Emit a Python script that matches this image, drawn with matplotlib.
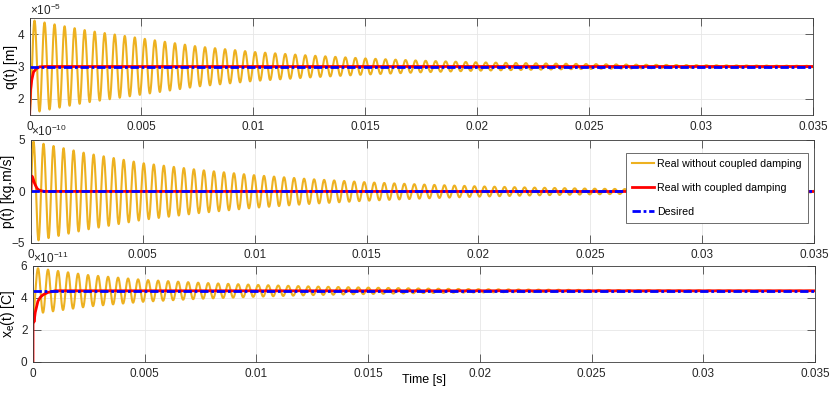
import numpy as np
import matplotlib
matplotlib.use("Agg")
import matplotlib.pyplot as plt

plt.rcParams["font.family"] = ["Liberation Sans", "DejaVu Sans"]
plt.rcParams["mathtext.fontset"] = "custom"
plt.rcParams["mathtext.rm"] = "Liberation Sans"
plt.rcParams["mathtext.it"] = "Liberation Sans:italic"

ORANGE = "#EDB120"
RED = "#FF0000"
BLUE = "#0000FF"
AXC = "#3a3a3a"

# --- data --------------------------------------------------------------
T_END = 0.035
xticks = [0, 0.005, 0.01, 0.015, 0.02, 0.025, 0.03, 0.035]
xtick_labels = ["0", "0.005", "0.01", "0.015", "0.02", "0.025", "0.03", "0.035"]

# oscillation period of the undamped response (s)
osc_period = 0.000448

# envelope (half peak-to-peak) of the orange curves, read every 2.5 ms
t_env = [0, 0.0025, 0.005, 0.0075, 0.01, 0.0125, 0.015, 0.0175,
         0.02, 0.0225, 0.025, 0.0275, 0.03, 0.0325, 0.035]
q_amp = [1.45, 1.12, 0.87, 0.62, 0.45, 0.34, 0.25, 0.18,
         0.13, 0.10, 0.075, 0.055, 0.04, 0.03, 0.022]          # x1e-5 m
p_amp = [4.9, 3.7, 2.75, 2.1, 1.58, 1.2, 0.9, 0.68,
         0.5, 0.38, 0.28, 0.21, 0.16, 0.12, 0.09]               # x1e-10
xe_amp = [1.45, 0.98, 0.68, 0.5, 0.37, 0.27, 0.2, 0.14,
          0.1, 0.075, 0.055, 0.04, 0.03, 0.02, 0.015]           # x1e-11 C

# desired values
q_des = 3.0     # x1e-5
p_des = 0.0     # x1e-10
xe_des = 4.45   # x1e-11

# red curves (with coupled damping)
t_q_red = [0, 1.5e-5, 4.5e-5, 1.0e-4, 1.8e-4, 3.0e-4, 4.5e-4, 7e-4, T_END]
q_red = [1.2, 1.8, 2.27, 2.58, 2.83, 2.93, 2.99, 3.0, 3.0]
t_p_red = [0, 1.5e-5, 3e-5, 6e-5, 1e-4, 1.5e-4, 2e-4, 2.7e-4, 3.5e-4,
           4.5e-4, 6e-4, T_END]
p_red = [0, 1.2, 1.5, 1.45, 1.2, 0.85, 0.6, 0.3, 0.15, 0.06, 0.01, 0]
t_xe_red = [0, 2e-6, 1.5e-5, 4.5e-5, 1e-4, 2.2e-4, 3.3e-4, 4.5e-4,
            6.7e-4, 1e-3, T_END]
xe_red = [0, 2.9, 3.0, 2.5, 3.1, 3.8, 4.05, 4.2, 4.35, 4.45, 4.45]

# --- curves ----------------------------------------------------------
t = np.linspace(0, T_END, 30000)
phase = 2 * np.pi * t / osc_period
q_real = q_des - np.interp(t, t_env, q_amp) * np.cos(phase)
p_real = p_des + np.interp(t, t_env, p_amp) * np.sin(phase)
xe_real = xe_des - np.interp(t, t_env, xe_amp) * np.cos(phase)

panels = [
    dict(pos=[29.5, 18, 783.5, 97], real=q_real, tr=t_q_red, red=q_red,
         des=q_des, ylim=(1.5, 4.5), yticks=[2, 3, 4], exp="-5",
         ylabel="q(t) [m]", lab_x=18),
    dict(pos=[31, 140, 783, 103], real=p_real, tr=t_p_red, red=p_red,
         des=p_des, ylim=(-5, 5), yticks=[-5, 0, 5], exp="-10",
         ylabel="p(t) [kg.m/s]", lab_x=15),
    dict(pos=[33, 266, 782, 96], real=xe_real, tr=t_xe_red, red=xe_red,
         des=xe_des, ylim=(0, 6), yticks=[0, 2, 4, 6], exp="-11",
         ylabel=r"x$_\mathrm{e}$(t) [C]", lab_x=17),
]

W, H = 830, 395
fig = plt.figure(figsize=(W / 100, H / 100), dpi=100)
axes = []
for pn in panels:
    x0, y0, w, h = pn["pos"]
    ax = fig.add_axes([x0 / W, 1 - (y0 + h) / H, w / W, h / H])
    ax.plot(t, pn["real"], color=ORANGE, lw=1.5,
            label="Real without coupled damping")
    ax.plot(pn["tr"], pn["red"], color=RED, lw=2,
            label="Real with coupled damping")
    ax.plot([0, T_END], [pn["des"], pn["des"]], color=BLUE, lw=2,
            linestyle=(0, (3, 1, 1, 1)), label="Desired")
    ax.set_xlim(0, T_END)
    ax.set_ylim(*pn["ylim"])
    ax.set_xticks(xticks)
    ax.set_xticklabels(xtick_labels)
    ax.set_yticks(pn["yticks"])
    ax.grid(True, color="#e6e6e6", lw=0.6)
    ax.set_axisbelow(True)
    ax.tick_params(direction="in", length=5.5, width=0.5, top=True,
                   right=True, labelsize=8.5, pad=4, colors="#262626")
    for sp in ax.spines.values():
        sp.set_color(AXC)
        sp.set_linewidth(0.6)
    ax.set_ylabel(pn["ylabel"], fontsize=10)
    ax.yaxis.set_label_coords((pn["lab_x"] - x0) / w, 0.5)
    ax.text(0.0, 1.005, r"$\times10^{%s}$" % pn["exp"], transform=ax.transAxes,
            ha="left", va="bottom", fontsize=8.5, color="#262626")
    axes.append(ax)

leg = axes[1].legend(loc="upper right", bbox_to_anchor=(0.992, 0.876),
                     fontsize=7.7, fancybox=False, framealpha=1,
                     edgecolor="#555555", handlelength=2.0, labelspacing=1.3,
                     borderpad=0.6, handletextpad=0.3, borderaxespad=0)
leg.get_frame().set_linewidth(0.6)

axes[2].text(0.5, -0.19, "Time [s]", transform=axes[2].transAxes,
             ha="center", va="center", fontsize=9)

fig.savefig("out.png", dpi=100)
